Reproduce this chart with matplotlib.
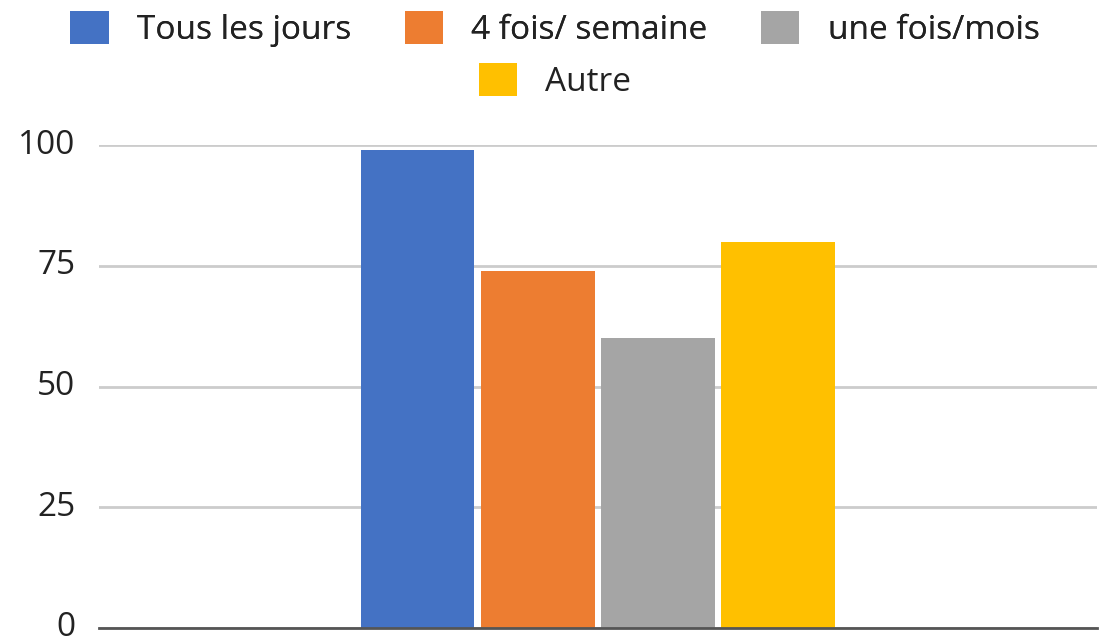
import numpy as np
from matplotlib import pyplot as plt

# frequency categories (legend) and their values
categories = ['Tous les jours', '4 fois/ semaine', 'une fois/mois', 'Autre']
values = [99, 74, 60, 80]
colors = ['#4472C4', '#ED7D31', '#A5A5A5', '#FFC000']
y_ticks = [0, 25, 50, 75, 100]


def main():
    plt.rcParams['font.family'] = ['Open Sans', 'DejaVu Sans']
    fig = plt.figure(figsize=(11.1, 6.4), dpi=100)
    ax = fig.add_axes([0.0892, 0.01875, 0.8988, 0.75465])

    pitch = 0.1205
    width = 0.114
    offsets = (np.arange(len(values)) - (len(values) - 1) / 2) * pitch
    bars = []
    for off, v, c, lab in zip(offsets, values, colors, categories):
        b = ax.bar(off, v, width=width, color=c, label=lab, zorder=3)
        bars.append(b)

    ax.set_xlim(-0.5, 0.5)
    ax.set_ylim(0, 100)
    ax.set_yticks(y_ticks)
    ax.set_xticks([])
    ax.tick_params(axis='y', length=0, pad=17, labelsize=24, labelcolor='#222222')
    for t in ax.get_yticklabels():
        t.set_verticalalignment('center')
    ax.yaxis.grid(True, color='#cccccc', linewidth=2, zorder=0)
    ax.set_axisbelow(True)
    for side in ['left', 'right', 'top']:
        ax.spines[side].set_visible(False)
    ax.spines['bottom'].set_color('#555555')
    ax.spines['bottom'].set_linewidth(2)
    ax.spines['bottom'].set_zorder(4)

    common = dict(frameon=False, fontsize=24, handlelength=1.15, handleheight=1.15,
                  handletextpad=0.85, columnspacing=1.6, labelcolor='#222222')
    leg1 = fig.legend(bars[:3], categories[:3], ncol=3, loc='center',
                      bbox_to_anchor=(0.5, 1 - 29 / 640), **common)
    fig.legend(bars[3:], categories[3:], ncol=1, loc='center',
               bbox_to_anchor=(0.5, 1 - 81 / 640), **common)
    fig.add_artist(leg1)

    fig.savefig('out.png', dpi=100)


if __name__ == '__main__':
    main()
